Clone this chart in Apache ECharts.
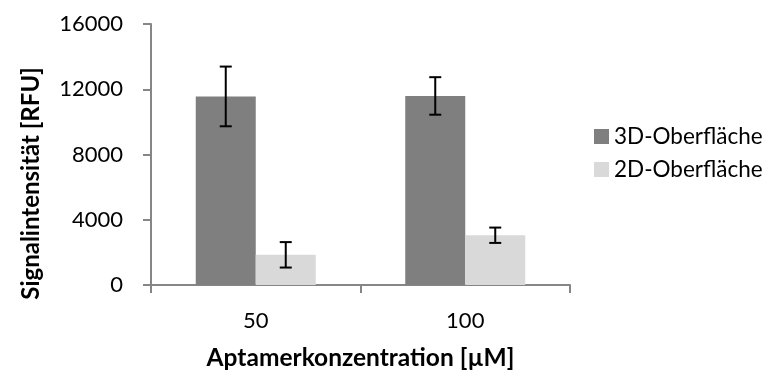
<!DOCTYPE html>
<html>
<head>
<meta charset="utf-8">
<script src="https://cdn.jsdelivr.net/npm/echarts@6/dist/echarts.min.js"></script>
<style>html,body{margin:0;padding:0;background:#fff}#c{width:771px;height:376px}</style>
</head>
<body>
<div id="c"></div>
<script>
var categories = ['50', '100'];
var seriesNames = ['3D-Oberfläche', '2D-Oberfläche'];
var values3D = [11560, 11590];
var errors3D = [1830, 1150];
var values2D = [1850, 3050];
var errors2D = [780, 470];
var yTicks = [0, 4000, 8000, 12000, 16000];

var FONT = 'Lato';
var BAR_W = 60;
var chart = echarts.init(document.getElementById('c'), null, {renderer: 'canvas'});

function errData(vals, errs) {
  return vals.map(function (v, i) { return [i, v - errs[i], v + errs[i]]; });
}
function errSeries(vals, errs, offsetSign) {
  return {
    type: 'custom',
    z: 10,
    silent: true,
    data: errData(vals, errs),
    encode: {x: 0, y: [1, 2]},
    renderItem: function (params, api) {
      var idx = api.value(0);
      var lo = api.coord([idx, api.value(1)]);
      var hi = api.coord([idx, api.value(2)]);
      var x = lo[0] + offsetSign * BAR_W / 2;
      var cap = 6;
      var st = {stroke: '#000', lineWidth: 2};
      return {type: 'group', children: [
        {type: 'line', shape: {x1: x, y1: hi[1], x2: x, y2: lo[1]}, style: st},
        {type: 'line', shape: {x1: x - cap, y1: hi[1], x2: x + cap, y2: hi[1]}, style: st},
        {type: 'line', shape: {x1: x - cap, y1: lo[1], x2: x + cap, y2: lo[1]}, style: st}
      ]};
    }
  };
}

chart.setOption({
  animation: false,
  textStyle: {fontFamily: FONT},
  grid: {left: 151, right: 201, top: 24, bottom: 88},
  legend: {
    orient: 'vertical', left: 589, top: 120, itemWidth: 15, itemHeight: 15, itemGap: 10,
    data: seriesNames,
    textStyle: {fontFamily: FONT, fontSize: 22.5, color: '#000'},
    icon: 'rect'
  },
  xAxis: {
    type: 'category', data: categories,
    name: 'Aptamerkonzentration [µM]', nameLocation: 'middle', nameGap: 61,
    nameTextStyle: {fontFamily: FONT, fontSize: 24.5, fontWeight: 'bold', color: '#000'},
    axisLine: {lineStyle: {color: '#868686', width: 2}},
    axisTick: {show: true, length: 8, lineStyle: {color: '#868686', width: 2}},
    axisLabel: {fontFamily: FONT, fontSize: 22, color: '#000', margin: 25}
  },
  yAxis: {
    type: 'value', min: yTicks[0], max: yTicks[yTicks.length - 1], interval: 4000,
    name: 'Signalintensität [RFU]', nameLocation: 'middle', nameGap: 108,
    nameTextStyle: {fontFamily: FONT, fontSize: 24, fontWeight: 'bold', color: '#000', padding: [0, 58, 0, 0]},
    axisLine: {show: true, lineStyle: {color: '#868686', width: 2}},
    axisTick: {show: true, length: 8, lineStyle: {color: '#868686', width: 2}},
    splitLine: {show: false},
    axisLabel: {fontFamily: FONT, fontSize: 22, color: '#000', margin: 28,
      formatter: function (v) { return String(v); }}
  },
  series: [
    {name: seriesNames[0], type: 'bar', data: values3D, barWidth: BAR_W, barGap: '0%', itemStyle: {color: '#7f7f7f'}},
    {name: seriesNames[1], type: 'bar', data: values2D, barWidth: BAR_W, barGap: '0%', itemStyle: {color: '#d9d9d9'}},
    errSeries(values3D, errors3D, -1),
    errSeries(values2D, errors2D, 1)
  ]
});
</script>
</body>
</html>
